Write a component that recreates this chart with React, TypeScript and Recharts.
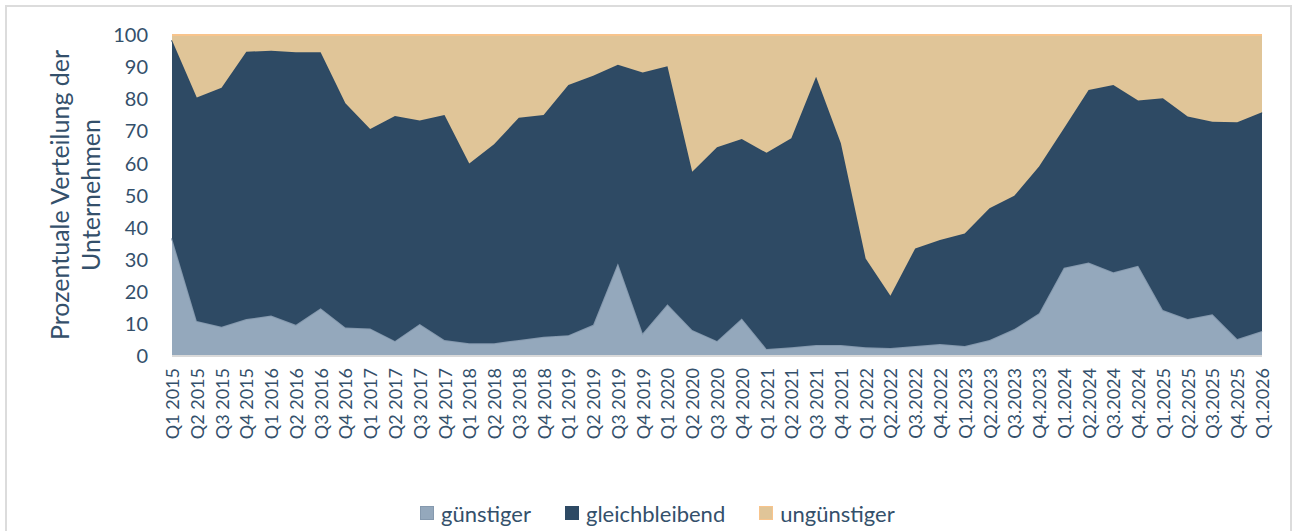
import React from 'react';
import { AreaChart, Area, XAxis, YAxis, Legend } from 'recharts';

const categories = [
  'Q1 2015', 'Q2 2015', 'Q3 2015', 'Q4 2015',
  'Q1 2016', 'Q2 2016', 'Q3 2016', 'Q4 2016',
  'Q1 2017', 'Q2 2017', 'Q3 2017', 'Q4 2017',
  'Q1 2018', 'Q2 2018', 'Q3 2018', 'Q4 2018',
  'Q1 2019', 'Q2 2019', 'Q3 2019', 'Q4 2019',
  'Q1 2020', 'Q2 2020', 'Q3 2020', 'Q4 2020',
  'Q1 2021', 'Q2 2021', 'Q3 2021', 'Q4 2021',
  'Q1 2022', 'Q2.2022', 'Q3.2022', 'Q4.2022',
  'Q1.2023', 'Q2.2023', 'Q3.2023', 'Q4.2023',
  'Q1.2024', 'Q2.2024', 'Q3.2024', 'Q4.2024',
  'Q1.2025', 'Q2.2025', 'Q3.2025', 'Q4.2025',
  'Q1.2026',
];

const guenstiger = [
  36.7, 10.9, 9.1, 11.5, 12.6, 9.7, 14.9, 8.9, 8.6, 4.7, 10.0, 5.0,
  4.0, 4.0, 5.0, 6.0, 6.5, 9.7, 28.9, 7.1, 16.1, 8.1, 4.7, 11.7,
  2.2, 2.7, 3.4, 3.4, 2.7, 2.5, 3.1, 3.7, 3.1, 5.0, 8.4, 13.3,
  27.5, 29.1, 26.1, 28.1, 14.3, 11.5, 13.0, 5.3, 7.8,
];

const gleichbleibend = [
  61.7, 69.6, 74.5, 83.3, 82.5, 84.9, 79.7, 69.8, 62.1, 70.1, 63.4, 70.1,
  56.0, 62.0, 69.2, 69.1, 77.9, 77.6, 61.8, 81.2, 74.2, 49.3, 60.3, 55.9,
  61.1, 65.1, 83.6, 62.9, 27.7, 16.3, 30.4, 32.4, 35.1, 41.0, 41.5, 45.7,
  43.4, 53.8, 58.3, 51.5, 66.0, 63.1, 60.0, 67.5, 68.1,
];

const unguenstiger = [
  1.6, 19.5, 16.4, 5.2, 4.9, 5.4, 5.4, 21.3, 29.3, 25.2, 26.6, 24.9,
  40.0, 34.0, 25.8, 24.9, 15.6, 12.7, 9.3, 11.7, 9.7, 42.6, 35.0, 32.4,
  36.7, 32.2, 13.0, 33.7, 69.6, 81.2, 66.5, 63.9, 61.8, 54.0, 50.1, 41.0,
  29.1, 17.1, 15.6, 20.4, 19.7, 25.4, 27.0, 27.2, 24.1,
];

const yTicks = [0, 10, 20, 30, 40, 50, 60, 70, 80, 90, 100];

const data = categories.map((q, i) => ({
  q,
  guenstiger: guenstiger[i],
  gleichbleibend: gleichbleibend[i],
  unguenstiger: unguenstiger[i],
}));

const FONT = 'Lato, "Open Sans", sans-serif';
const TEXT = '#34506b';

const seriesStyle = [
  { key: 'guenstiger', name: 'günstiger', fill: '#94a8bc', stroke: '#8599ae' },
  { key: 'gleichbleibend', name: 'gleichbleibend', fill: '#2e4a64', stroke: '#2e4a64' },
  { key: 'unguenstiger', name: 'ungünstiger', fill: '#e0c598', stroke: '#f8c48c' },
];

const XTick = (props: any) => {
  const { x, y, payload } = props;
  return (
    <text
      x={x}
      y={y}
      transform={`rotate(-90, ${x}, ${y})`}
      textAnchor="end"
      dominantBaseline="central"
      fontFamily={FONT}
      fontSize={18}
      fill={TEXT}
    >
      {payload.value}
    </text>
  );
};

const YLabel = () => (
  <g>
    <text
      transform="translate(59, 195) rotate(-90)"
      textAnchor="middle"
      dominantBaseline="central"
      fontFamily={FONT}
      fontSize={25}
      fill={TEXT}
    >
      Prozentuale Verteilung der
    </text>
    <text
      transform="translate(90, 195) rotate(-90)"
      textAnchor="middle"
      dominantBaseline="central"
      fontFamily={FONT}
      fontSize={25}
      fill={TEXT}
    >
      Unternehmen
    </text>
  </g>
);

const LegendContent = () => (
  <div
    style={{
      display: 'flex',
      alignItems: 'center',
      paddingLeft: 420,
      paddingTop: 4,
      height: 44,
      fontFamily: FONT,
      fontSize: 22,
      color: TEXT,
    }}
  >
    {seriesStyle.map((s, i) => (
      <div key={s.key} style={{ display: 'flex', alignItems: 'center', marginLeft: i === 0 ? 0 : 34 }}>
        <span
          style={{
            display: 'inline-block',
            width: 12,
            height: 12,
            background: s.fill,
            border: `1px solid ${s.stroke}`,
            marginRight: 7,
          }}
        />
        <span>{s.name}</span>
      </div>
    ))}
  </div>
);

export default function App() {
  return (
    <div style={{ position: 'fixed', left: 0, top: 0, width: 1292, height: 531, background: '#ffffff', overflow: 'hidden' }}>
      <div
        style={{
          position: 'absolute',
          left: 5,
          top: 5,
          width: 1283,
          height: 560,
          border: '2px solid #dcdcdc',
        }}
      />
      <div style={{ position: 'absolute', left: 0, top: 0 }}>
        <AreaChart
          width={1292}
          height={531}
          data={data}
          margin={{ top: 35, right: 30, left: 0, bottom: 0 }}
        >
          <XAxis
            dataKey="q"
            interval={0}
            tick={<XTick />}
            tickLine={false}
            tickSize={0}
            tickMargin={12}
            height={131}
            axisLine={{ stroke: '#d9d9d9', strokeWidth: 2 }}
          />
          <YAxis
            width={172}
            domain={[0, 100]}
            ticks={yTicks}
            interval={0}
            axisLine={false}
            tickLine={false}
            tickSize={0}
            tickMargin={24}
            tick={{ fontFamily: FONT, fontSize: 20, fill: TEXT }}
            label={{ content: () => <YLabel /> }}
          />
          <Legend
            verticalAlign="bottom"
            height={44}
            width={1292}
            wrapperStyle={{ left: 0, width: 1292 }}
            content={() => <LegendContent />}
          />
          {seriesStyle.map((s) => (
            <Area
              key={s.key}
              type="linear"
              dataKey={s.key}
              name={s.name}
              stackId="1"
              fill={s.fill}
              fillOpacity={1}
              stroke={s.stroke}
              strokeWidth={2}
              dot={false}
              activeDot={false}
              isAnimationActive={false}
            />
          ))}
        </AreaChart>
      </div>
    </div>
  );
}
